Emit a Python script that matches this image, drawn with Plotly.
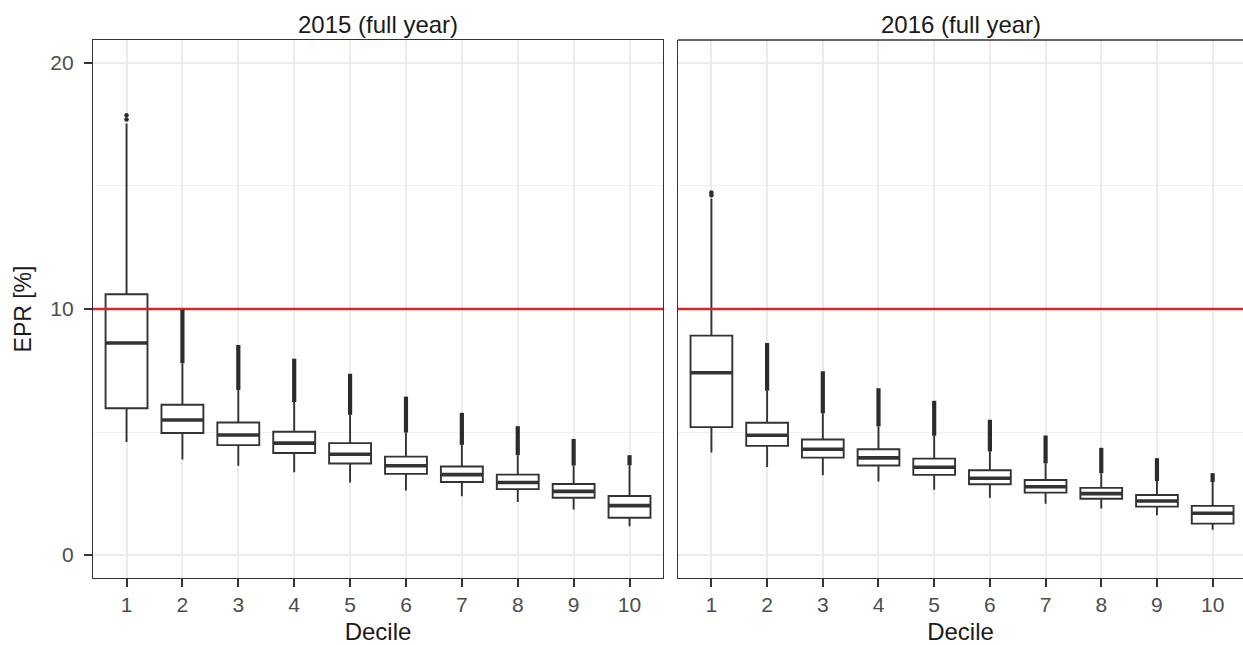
import plotly.graph_objects as go

# ---------------- data ----------------
deciles = [1, 2, 3, 4, 5, 6, 7, 8, 9, 10]
panel_titles = ["2015 (full year)", "2016 (full year)"]
threshold = 10

# 2015
q1_2015 = [5.97, 4.96, 4.47, 4.15, 3.72, 3.30, 2.97, 2.68, 2.33, 1.52]
med_2015 = [8.62, 5.49, 4.88, 4.55, 4.10, 3.63, 3.27, 2.95, 2.59, 2.01]
q3_2015 = [10.60, 6.11, 5.39, 5.01, 4.55, 4.00, 3.60, 3.27, 2.89, 2.40]
lo_2015 = [4.60, 3.88, 3.63, 3.37, 2.95, 2.63, 2.39, 2.16, 1.85, 1.17]
hi_2015 = [17.54, 7.80, 6.71, 6.22, 5.70, 4.98, 4.48, 4.06, 3.64, 3.65]
outmax_2015 = [None, 9.97, 8.54, 7.98, 7.37, 6.44, 5.78, 5.24, 4.72, 4.06]
pts_x_2015 = [1, 1]
pts_y_2015 = [17.70, 17.87]

# 2016
q1_2016 = [5.20, 4.44, 3.96, 3.64, 3.26, 2.88, 2.54, 2.29, 1.97, 1.28]
med_2016 = [7.41, 4.87, 4.30, 3.95, 3.57, 3.12, 2.78, 2.50, 2.20, 1.70]
q3_2016 = [8.92, 5.38, 4.70, 4.30, 3.92, 3.45, 3.05, 2.73, 2.44, 2.00]
lo_2016 = [4.17, 3.58, 3.25, 2.99, 2.66, 2.33, 2.09, 1.89, 1.62, 1.03]
hi_2016 = [14.49, 6.68, 5.76, 5.23, 4.85, 4.21, 3.73, 3.33, 3.01, 2.97]
outmax_2016 = [None, 8.62, 7.47, 6.78, 6.27, 5.50, 4.86, 4.36, 3.94, 3.33]
pts_x_2016 = [1, 1]
pts_y_2016 = [14.62, 14.73]

# ---------------- styling ----------------
FONT = "Liberation Sans, Arial, sans-serif"
DARK = "#333333"
BOX_W = 0.75
XR1 = [0.4, 10.6]
XR2 = [0.4, 10.545]
YR = [-0.93, 20.93]

fig = go.Figure()

panels = [
    (q1_2015, med_2015, q3_2015, lo_2015, hi_2015, outmax_2015, pts_x_2015, pts_y_2015, XR1, "x", "y"),
    (q1_2016, med_2016, q3_2016, lo_2016, hi_2016, outmax_2016, pts_x_2016, pts_y_2016, XR2, "x2", "y2"),
]

for q1, med, q3, lo, hi, omax, px, py, xr, xa, ya in panels:
    # threshold line across the panel, below the boxes
    fig.add_trace(go.Scatter(x=xr, y=[threshold, threshold], mode="lines", xaxis=xa, yaxis=ya,
                             line=dict(color="#D7262A", width=2.6),
                             showlegend=False, hoverinfo="skip"))
    # dense outlier columns
    bx, by = [], []
    for d, h, m in zip(deciles, hi, omax):
        if m is not None:
            bx += [d, d, None]
            by += [h, m, None]
    fig.add_trace(go.Scatter(x=bx, y=by, mode="lines", xaxis=xa, yaxis=ya,
                             line=dict(color="#2b2b2b", width=4.2),
                             showlegend=False, hoverinfo="skip"))
    fig.add_trace(go.Scatter(x=px, y=py, mode="markers", xaxis=xa, yaxis=ya,
                             marker=dict(color="#2b2b2b", size=4.5),
                             showlegend=False, hoverinfo="skip"))
    fig.add_trace(go.Box(x=deciles, q1=q1, median=med, q3=q3,
                         lowerfence=lo, upperfence=hi,
                         width=BOX_W, whiskerwidth=0, boxpoints=False,
                         fillcolor="white", line=dict(color=DARK, width=1.9),
                         xaxis=xa, yaxis=ya, showlegend=False))
    # thicker median bars
    mx, my = [], []
    for d, m in zip(deciles, med):
        mx += [d - BOX_W / 2, d + BOX_W / 2, None]
        my += [m, m, None]
    fig.add_trace(go.Scatter(x=mx, y=my, mode="lines", xaxis=xa, yaxis=ya,
                             line=dict(color=DARK, width=3.6),
                             showlegend=False, hoverinfo="skip"))

tickfont = dict(family=FONT, size=21, color="#4D4D4D")
common_x = dict(tickmode="array", tickvals=deciles, ticktext=[str(d) for d in deciles],
                ticks="outside", ticklen=8, tickwidth=1.6, tickcolor=DARK,
                tickfont=tickfont, showgrid=True, gridcolor="#EBEBEB", gridwidth=2,
                zeroline=False, showline=True, linecolor=DARK, linewidth=1.3,
                automargin=False,
                title=dict(text="Decile", font=dict(family=FONT, size=24, color="#1a1a1a"),
                           standoff=9))
common_y = dict(range=YR, tickmode="linear", tick0=0, dtick=10,
                showgrid=True, gridcolor="#EBEBEB", gridwidth=2, zeroline=False,
                minor=dict(dtick=5, tick0=0, showgrid=True, gridcolor="#F1F1F1", gridwidth=1.2),
                showline=True, linecolor=DARK, linewidth=1.3, automargin=False)

fig.update_layout(
    width=1243, height=645,
    margin=dict(l=93, r=0, t=40, b=67, autoexpand=False),
    paper_bgcolor="white", plot_bgcolor="white",
    font=dict(family=FONT),
    xaxis=dict(domain=[0, 0.4957], range=XR1, anchor="y", mirror=True, **common_x),
    xaxis2=dict(domain=[0.5087, 1], range=XR2, anchor="y2", mirror=False, **common_x),
    yaxis=dict(ticks="outside", ticklen=8, tickwidth=1.6, tickcolor=DARK,
               tickfont=tickfont, anchor="x", mirror=True, ticklabelstandoff=6,
               title=dict(text="EPR [%]", font=dict(family=FONT, size=23, color="#1a1a1a"),
                          standoff=12),
               **common_y),
    yaxis2=dict(anchor="x2", showticklabels=False, ticks="", matches="y", **common_y),
)

# top border for right panel (its right edge falls outside the picture)
fig.add_shape(type="line", xref="x2 domain", yref="y2 domain", x0=0, x1=1, y0=1, y1=1,
              line=dict(color=DARK, width=1.3), layer="above")

# strip titles
for title, xa, ya in [(panel_titles[0], "x", "y"), (panel_titles[1], "x2", "y2")]:
    fig.add_annotation(text=title, xref=f"{xa} domain", yref=f"{ya} domain",
                       x=0.5, y=1, yanchor="middle", yshift=16, showarrow=False,
                       font=dict(family=FONT, size=24, color="#1a1a1a"))

fig.write_html("out.html", config={"displayModeBar": False},
               post_script="document.body.style.margin='0px';")
